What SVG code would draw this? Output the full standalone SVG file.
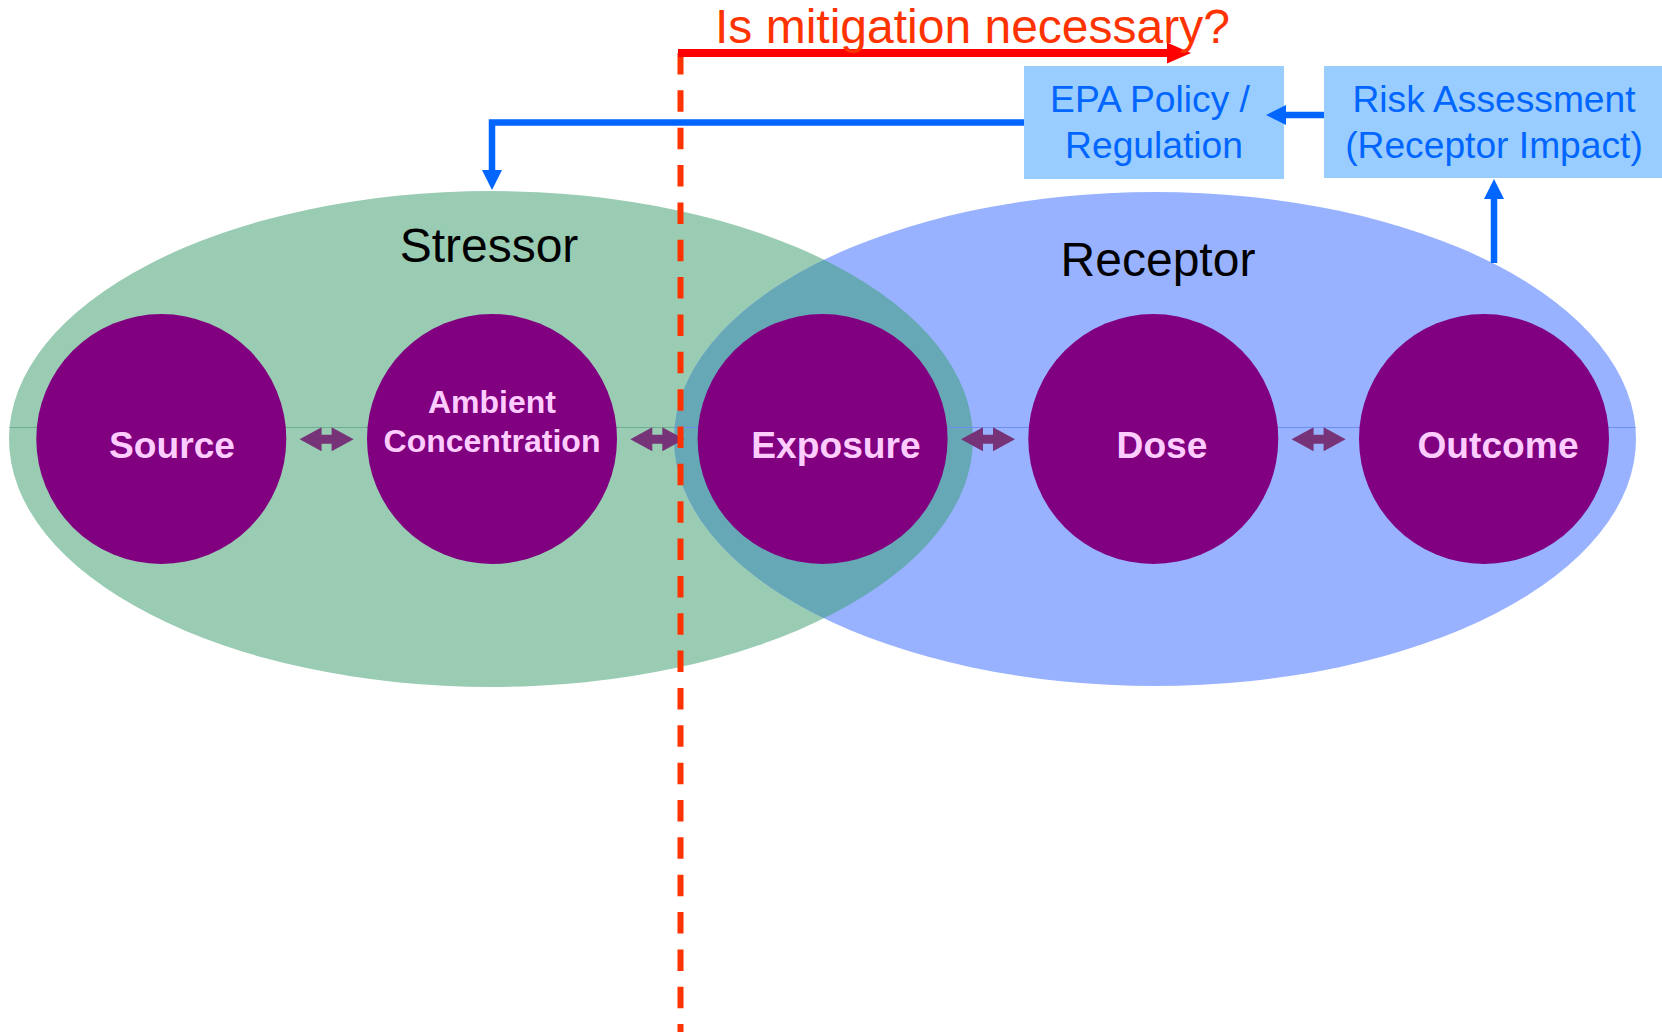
<svg xmlns="http://www.w3.org/2000/svg" width="1662" height="1032" viewBox="0 0 1662 1032">
  <style>
    .stage { font-family: "Liberation Sans", Arial, sans-serif; font-weight: normal; font-size: 48px; fill: #000000; text-anchor: middle; }
    .step { fill: #800080; }
    .step-label { font-family: "Liberation Sans", Arial, sans-serif; font-weight: bold; font-size: 37.2px; fill: #FFCCFF; text-anchor: middle; }
    .step-label.small { font-size: 32px; }
    .box { fill: #99CCFF; }
    .box-label { font-family: "Liberation Sans", Arial, sans-serif; font-size: 37.2px; fill: #0066FF; text-anchor: middle; }
    .link { fill: none; stroke: #0066FF; stroke-width: 6.5; }
    .flow { fill: #773377; }
    .question { font-family: "Liberation Sans", Arial, sans-serif; font-size: 48px; fill: #FF3300; }
  </style>
  <defs>
    <marker id="head-blue" markerUnits="userSpaceOnUse" viewBox="0 0 20 20" markerWidth="20" markerHeight="20" refX="1" refY="10" orient="auto">
      <path d="M0,0 L20,10 L0,20 z" fill="#0066FF"/>
    </marker>
    <marker id="head-red" markerUnits="userSpaceOnUse" viewBox="0 0 24 21" markerWidth="24" markerHeight="21" refX="1" refY="10.5" orient="auto">
      <path d="M0,0 L24,10.5 L0,21 z" fill="#FF0000"/>
    </marker>
    <clipPath id="clip-stressor">
      <ellipse cx="491" cy="439" rx="482" ry="248"/>
    </clipPath>
    <clipPath id="clip-receptor">
      <ellipse cx="1155" cy="439" rx="481" ry="247"/>
    </clipPath>
    <polygon id="double-arrow" points="-27,0 -5,-12 -5,-4.5 5,-4.5 5,-12 27,0 5,12 5,4.5 -5,4.5 -5,12"/>
  </defs>

  <!-- domains -->
  <g id="stressor">
    <ellipse cx="491" cy="439" rx="482" ry="248" fill="#99CCB3"/>
    <line x1="0" y1="427.5" x2="1000" y2="427.5" stroke="#6FAE93" stroke-width="1" clip-path="url(#clip-stressor)"/>
    <text class="stage" x="489" y="262">Stressor</text>
  </g>
  <g id="receptor">
    <ellipse cx="1155" cy="439" rx="481" ry="247" fill="#99B2FF"/>
    <g clip-path="url(#clip-stressor)">
      <ellipse cx="1155" cy="439" rx="481" ry="247" fill="#66A8B5"/>
    </g>
    <line x1="660" y1="427.5" x2="1662" y2="427.5" stroke="#6F8FF0" stroke-width="1" clip-path="url(#clip-receptor)"/>
    <text class="stage" x="1158" y="276">Receptor</text>
  </g>

  <!-- pathway steps -->
  <g id="source">
    <circle class="step" cx="161.3" cy="439" r="125"/>
    <text class="step-label" x="172" y="458">Source</text>
  </g>
  <g id="ambient-concentration">
    <circle class="step" cx="492" cy="439" r="125"/>
    <text class="step-label small" x="492" y="413">Ambient</text>
    <text class="step-label small" x="492" y="451.5">Concentration</text>
  </g>
  <g id="exposure">
    <circle class="step" cx="822.6" cy="439" r="125"/>
    <text class="step-label" x="836" y="458">Exposure</text>
  </g>
  <g id="dose">
    <circle class="step" cx="1153.3" cy="439" r="125"/>
    <text class="step-label" x="1162" y="458">Dose</text>
  </g>
  <g id="outcome">
    <circle class="step" cx="1484" cy="439" r="125"/>
    <text class="step-label" x="1498" y="458">Outcome</text>
  </g>

  <!-- boxes -->
  <g id="epa-policy">
    <rect class="box" x="1024" y="66" width="260" height="113"/>
    <text class="box-label" x="1150" y="112">EPA Policy /</text>
    <text class="box-label" x="1154" y="158">Regulation</text>
  </g>
  <g id="risk-assessment">
    <rect class="box" x="1324" y="66" width="338" height="112"/>
    <text class="box-label" x="1494" y="112">Risk Assessment</text>
    <text class="box-label" x="1494" y="158">(Receptor Impact)</text>
  </g>

  <!-- connectors -->
  <g id="connectors">
    <use href="#double-arrow" class="flow" x="326.6" y="439.3"/>
    <use href="#double-arrow" class="flow" x="657.3" y="439.3"/>
    <use href="#double-arrow" class="flow" x="988" y="439.3"/>
    <use href="#double-arrow" class="flow" x="1318.6" y="439.3"/>
    <path class="link" d="M1024,122.5 H492 V171" marker-end="url(#head-blue)"/>
    <path class="link" d="M1324,115 H1285" marker-end="url(#head-blue)"/>
    <path class="link" d="M1494,263 V198" marker-end="url(#head-blue)"/>
    <line x1="680.5" y1="53" x2="680.5" y2="1032" stroke="#FF3300" stroke-width="6" stroke-dasharray="21.5 15.85"/>
    <path d="M678,53 H1168" fill="none" stroke="#FF0000" stroke-width="8" marker-end="url(#head-red)"/>
  </g>

  <text class="question" x="715" y="43">Is mitigation necessary?</text>
</svg>
